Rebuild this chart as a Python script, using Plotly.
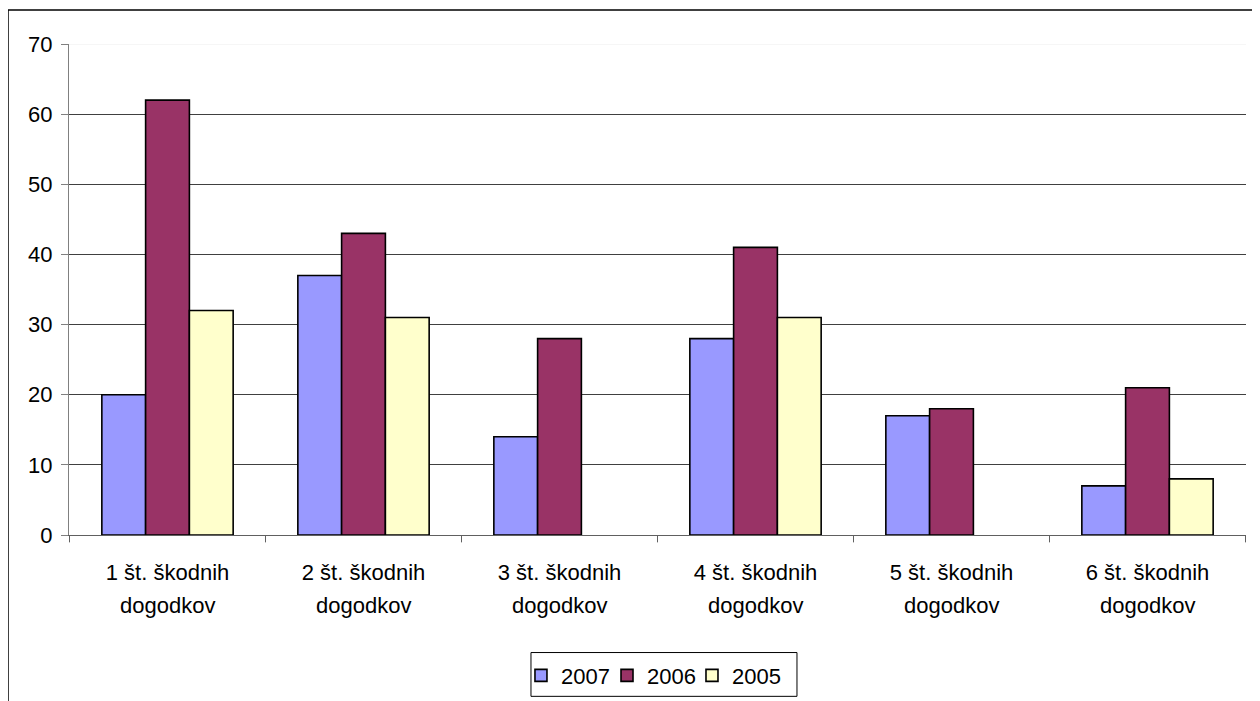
import plotly.graph_objects as go

categories = ["1 št. škodnih dogodkov", "2 št. škodnih dogodkov", "3 št. škodnih dogodkov",
              "4 št. škodnih dogodkov", "5 št. škodnih dogodkov", "6 št. škodnih dogodkov"]
series_names = ["2007", "2006", "2005"]
v2007 = [20, 37, 14, 28, 17, 7]
v2006 = [62, 43, 28, 41, 18, 21]
v2005 = [32, 31, None, 31, None, 8]
colors = ["#9999FF", "#993366", "#FFFFCC"]
yticks = [0, 10, 20, 30, 40, 50, 60, 70]

FONT = "Liberation Sans, Arial, sans-serif"

# split labels in two display lines
line1 = [c.rsplit(" ", 1)[0] for c in categories]
line2 = [c.rsplit(" ", 1)[1] for c in categories]

legend_ids = ["legend", "legend2", "legend3"]
legend_x = [0.3840, 0.4571, 0.5293]

fig = go.Figure()
for name, vals, col, lid in zip(series_names, [v2007, v2006, v2005], colors, legend_ids):
    fig.add_trace(go.Bar(x=categories, y=vals, name=name, marker_color=col,
                         marker_line_color="black", marker_line_width=1.6, legend=lid))

legend_style = dict(orientation="h", xanchor="left", y=-0.2435, yanchor="top",
                    borderwidth=0, bgcolor="rgba(0,0,0,0)", font=dict(size=22))

fig.update_layout(
    width=1260, height=701,
    margin=dict(l=61, r=22, t=36, b=172),
    paper_bgcolor="white", plot_bgcolor="white",
    barmode="group", bargap=0.33, bargroupgap=0,
    font=dict(family=FONT, size=22, color="black"),
    showlegend=True,
    legend=dict(x=legend_x[0], **legend_style),
    legend2=dict(x=legend_x[1], **legend_style),
    legend3=dict(x=legend_x[2], **legend_style),
    xaxis=dict(showline=True, linecolor="#606060", linewidth=1, ticks="",
               tickmode="array", tickvals=categories, ticktext=line1,
               tickfont=dict(size=22), showgrid=False, ticklabelstandoff=18),
    yaxis=dict(range=[0, 70], tickvals=yticks, showline=True, linecolor="#808080",
               linewidth=1, ticks="outside", ticklen=7, tickcolor="#808080",
               showgrid=True, gridcolor="#404040", gridwidth=1, zeroline=False,
               tickfont=dict(size=22), ticklabelstandoff=4),
)

# second line of category labels
for c, t in zip(categories, line2):
    fig.add_annotation(x=c, xref="x", y=0, yref="paper", text=t, showarrow=False,
                       yanchor="middle", yshift=-70, font=dict(size=22, family=FONT))

# light top gridline
fig.add_shape(type="line", xref="paper", yref="y", x0=0, x1=1, y0=70, y1=70,
              line=dict(color="#eeeeee", width=1), layer="above")
# category boundary ticks on x axis
for i in range(len(categories) + 1):
    fig.add_shape(type="line", xref="x", yref="paper", x0=i - 0.5, x1=i - 0.5, y0=0, y1=-0.015,
                  line=dict(color="#606060", width=1))
# legend frame
fig.add_shape(type="rect", xref="paper", yref="paper", x0=0.3925, x1=0.6185, y0=-0.2394, y1=-0.3286,
              line=dict(color="black", width=1), fillcolor="rgba(0,0,0,0)")
# outer chart border (left and top)
fig.add_shape(type="line", xref="paper", yref="paper", x0=-61/1177, x1=-61/1177, y0=1.069, y1=-0.5,
              line=dict(color="black", width=1.5))
fig.add_shape(type="line", xref="paper", yref="paper", x0=-61/1177, x1=1.05, y0=1.069, y1=1.069,
              line=dict(color="black", width=1.5))

fig.write_html("out.html")
